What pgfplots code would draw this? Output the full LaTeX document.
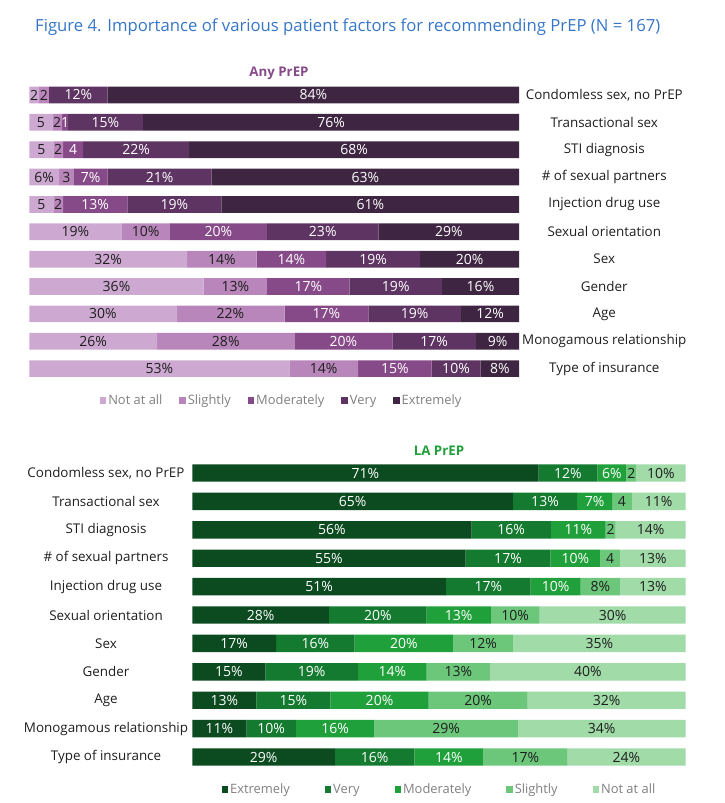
\documentclass[border=0pt]{standalone}
\usepackage{pgfplots}
\pgfplotsset{compat=1.18}
\usepackage{pgfplotstable}
\usepackage{fontspec}
\setmainfont{Open Sans}
\definecolor{pNA}{HTML}{CDA9D1}
\definecolor{pSL}{HTML}{B886BA}
\definecolor{pMO}{HTML}{874A88}
\definecolor{pVE}{HTML}{5E3462}
\definecolor{pEX}{HTML}{3E2541}
\definecolor{gEX}{HTML}{0B4B1F}
\definecolor{gVE}{HTML}{137A2F}
\definecolor{gMO}{HTML}{20A03A}
\definecolor{gSL}{HTML}{6CC77B}
\definecolor{gNA}{HTML}{A0DBA8}
\definecolor{titleblue}{HTML}{3676C8}
\definecolor{txt}{HTML}{1E1E1E}
\definecolor{leggray}{HTML}{808080}

\pgfplotstableread{
y  na   sl   mo   ve   ex   lna   lsl   lmo   lve   lex
0  2    2    0    12   84   2     2     {}    12\%  84\%
1  4.7  2    1.2  15.3 76.8 5     2     1     15\%  76\%
2  4.9  2    4.1  21.6 67.4 5     2     4     22\%  68\%
3  6.1  2.9  7    21.2 62.8 6\%   3     7\%   21\%  63\%
4  4.9  2    13.1 19.2 60.8 5     2     13\%  19\%  61\%
5  18.8 9.9  19.8 22.8 28.7 19\%  10\%  20\%  23\%  29\%
6  32.2 14.2 14.2 19.2 20.2 32\%  14\%  14\%  19\%  20\%
7  35.6 12.9 16.9 18.8 15.8 36\%  13\%  17\%  19\%  16\%
8  30   22.1 17.1 18.9 11.9 30\%  22\%  17\%  19\%  12\%
9  26.1 28   20   17.1 8.8  26\%  28\%  20\%  17\%  9\%
10 53.1 14   15   10   7.9  53\%  14\%  15\%  10\%  8\%
}\toptab

\pgfplotstableread{
y  ex   ve   mo   sl   na   lex   lve   lmo   lsl   lna
0  70.2 11.9 5.9  2    10   71\%  12\%  6\%   2     10\%
1  65   13   7.1  4    10.9 65\%  13\%  7\%   4     11\%
2  56.6 16.1 11.1 2    14.2 56\%  16\%  11\%  2     14\%
3  55.4 17.2 10.1 4    13.3 55\%  17\%  10\%  4     13\%
4  51.4 17.2 10.1 8    13.3 51\%  17\%  10\%  8\%   13\%
5  27.7 19.8 13   9.9  29.6 28\%  20\%  13\%  10\%  30\%
6  17   15.9 20   12.1 35   17\%  16\%  20\%  12\%  35\%
7  14.8 18.8 13.9 12.9 39.6 15\%  19\%  14\%  13\%  40\%
8  13   15   19.9 20.1 32   13\%  15\%  20\%  20\%  32\%
9  11   10   15.9 29.1 34   11\%  10\%  16\%  29\%  34\%
10 28.9 16.1 14   17   24   29\%  16\%  14\%  17\%  24\%
}\bottab

\pgfplotsset{
  sq/.style={legend image code/.code={\fill[##1] (0pt,-3.2pt) rectangle (6.4pt,3.2pt);}},
  wl/.style={every node near coord/.append style={text=white}},
  dl/.style={every node near coord/.append style={text=txt}},
  common/.style={
    scale only axis,
    xbar stacked,
    xmin=0, xmax=100.02, ymin=-0.5, ymax=10.5,
    y dir=reverse,
    axis line style={draw=none},
    xtick=\empty,
    ytick={0,...,10},
    yticklabels={{Condomless sex, no PrEP}, Transactional sex, STI diagnosis, \# of sexual partners, Injection drug use, Sexual orientation, Sex, Gender, Age, Monogamous relationship, Type of insurance},
    major tick length=0pt,
    yticklabel style={anchor=center, font=\fontsize{13.4}{16}\selectfont, text=txt},
    nodes near coords,
    point meta=explicit symbolic,
    every node near coord/.append style={font=\fontsize{14}{16}\selectfont, inner sep=0pt},
    legend columns=5,
  },
}

\begin{document}
\begin{tikzpicture}[x=1pt,y=1pt]
\useasboundingbox (0,0) rectangle (724,803);
\node[anchor=west, text=titleblue, font=\fontsize{16.7}{19}\selectfont, inner sep=0pt] at (35,776) {Figure 4. Importance of various patient factors for recommending PrEP (N = 167)};
\node[text=pMO, font=\bfseries\fontsize{13.3}{15}\selectfont, inner sep=0pt] at (279,729.7) {Any PrEP};
\node[text=gMO, font=\bfseries\fontsize{13.3}{15}\selectfont, inner sep=0pt] at (439,352.3) {LA PrEP};

\begin{axis}[common,
  at={(29.3pt,721.7pt)}, anchor=north west,
  width=490pt, height=301pt, bar width=16.7pt,
  yticklabel pos=right,
  yticklabel style={xshift=85pt},
  legend style={at={(0.515,-0.061)}, anchor=center, draw=none, fill=none,
    font=\fontsize{12.9}{15}\selectfont, text=leggray,
    /tikz/every even column/.append style={column sep=15pt}},
]
\addplot[fill=pNA, draw=none, sq, dl] table[x=na, y=y, meta=lna] {\toptab};
\addplot[fill=pSL, draw=none, sq, dl] table[x=sl, y=y, meta=lsl] {\toptab};
\addplot[fill=pMO, draw=none, sq, wl] table[x=mo, y=y, meta=lmo] {\toptab};
\addplot[fill=pVE, draw=none, sq, wl] table[x=ve, y=y, meta=lve] {\toptab};
\addplot[fill=pEX, draw=none, sq, wl] table[x=ex, y=y, meta=lex] {\toptab};
\legend{Not at all, Slightly, Moderately, Very, Extremely}
\end{axis}

\begin{axis}[common,
  at={(192.3pt,344.2pt)}, anchor=north west,
  width=493.4pt, height=312.4pt, bar width=17.4pt,
  yticklabel pos=left,
  yticklabel style={xshift=-86.3pt},
  legend style={at={(0.501,-0.058)}, anchor=center, draw=none, fill=none,
    font=\fontsize{12.9}{15}\selectfont, text=leggray,
    /tikz/every even column/.append style={column sep=33pt}},
]
\addplot[fill=gEX, draw=none, sq, wl] table[x=ex, y=y, meta=lex] {\bottab};
\addplot[fill=gVE, draw=none, sq, wl] table[x=ve, y=y, meta=lve] {\bottab};
\addplot[fill=gMO, draw=none, sq, wl] table[x=mo, y=y, meta=lmo] {\bottab};
\addplot[fill=gSL, draw=none, sq, dl] table[x=sl, y=y, meta=lsl] {\bottab};
\addplot[fill=gNA, draw=none, sq, dl] table[x=na, y=y, meta=lna] {\bottab};
\legend{Extremely, Very, Moderately, Slightly, Not at all}
\end{axis}
\end{tikzpicture}
\end{document}
